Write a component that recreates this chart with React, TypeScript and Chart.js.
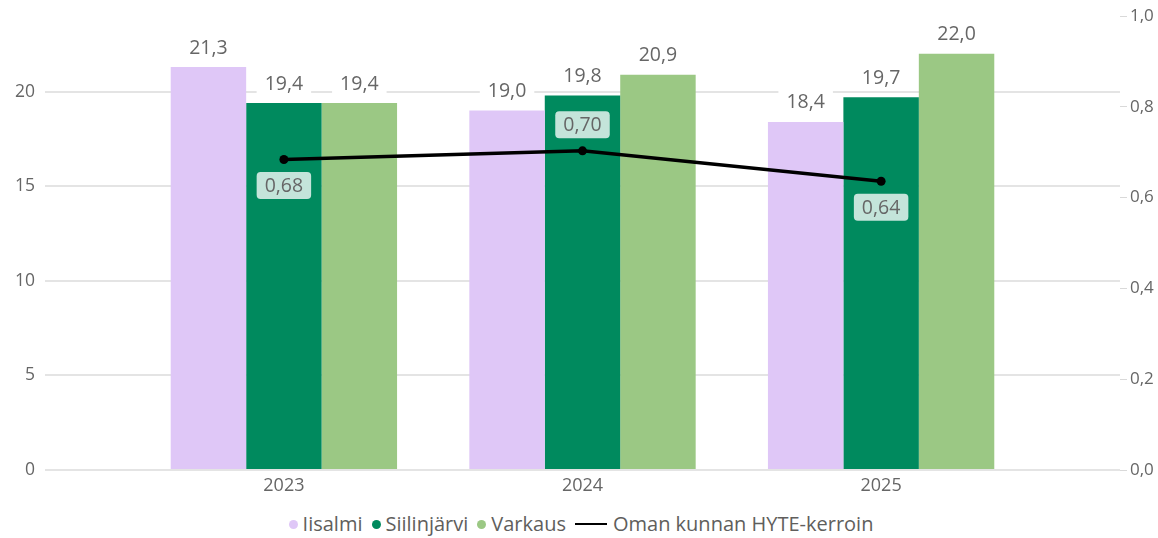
import React, { useEffect, useRef } from 'react';
import { Chart, registerables } from 'chart.js';

Chart.register(...registerables);

// ---- data ----
const years = ['2023', '2024', '2025'];
const iisalmi = [21.3, 19.0, 18.4];
const siilinjarvi = [19.4, 19.8, 19.7];
const varkaus = [19.4, 20.9, 22.0];
const hyteKerroin = [0.684, 0.703, 0.636];
const leftTicks = [0, 5, 10, 15, 20];
const rightTicks = [0, 0.2, 0.4, 0.6, 0.8, 1.0];
// placement of the HYTE labels: 1 = below the point, -1 = above
const hyteLabelSide = [1, -1, 1];

const seriesNames = ['Iisalmi', 'Siilinjärvi', 'Varkaus'];
const seriesColors = ['#dfc7f7', '#008a5e', '#9bc884'];
const lineName = 'Oman kunnan HYTE-kerroin';

const FONT = '"Segoe UI", "Open Sans", sans-serif';
const TEXT = '#666666';
const LEGEND_TEXT = '#605e5c';
const LABEL_FONT = 19.5;

const fmt = (v: number, d: number) => v.toFixed(d).replace('.', ',');
const toPoints = (arr: number[]) => arr.map((y, i) => ({ x: i, y }));

const roundRect = (ctx: CanvasRenderingContext2D, x: number, y: number, w: number, h: number, r: number) => {
  ctx.beginPath();
  ctx.moveTo(x + r, y);
  ctx.lineTo(x + w - r, y);
  ctx.quadraticCurveTo(x + w, y, x + w, y + r);
  ctx.lineTo(x + w, y + h - r);
  ctx.quadraticCurveTo(x + w, y + h, x + w - r, y + h);
  ctx.lineTo(x + r, y + h);
  ctx.quadraticCurveTo(x, y + h, x, y + h - r);
  ctx.lineTo(x, y + r);
  ctx.quadraticCurveTo(x, y, x + r, y);
  ctx.closePath();
};

const valueLabels = {
  id: 'valueLabels',
  afterDatasetsDraw(chart: any) {
    const ctx: CanvasRenderingContext2D = chart.ctx;
    ctx.save();
    ctx.font = `${LABEL_FONT}px ${FONT}`;
    ctx.textAlign = 'center';
    ctx.textBaseline = 'middle';
    chart.data.datasets.forEach((ds: any, di: number) => {
      const meta = chart.getDatasetMeta(di);
      if (!meta.visible) return;
      meta.data.forEach((el: any, i: number) => {
        const v = ds.data[i].y;
        if (ds.type === 'line') {
          const txt = fmt(v, 2);
          const w = ctx.measureText(txt).width + 16;
          const h = 27;
          const cy = el.y + hyteLabelSide[i] * 26;
          ctx.fillStyle = 'rgba(255,255,255,0.77)';
          roundRect(ctx, el.x - w / 2, cy - h / 2, w, h, 4);
          ctx.fill();
          ctx.fillStyle = TEXT;
          ctx.fillText(txt, el.x, cy + 1);
        } else {
          const txt = fmt(v, 1);
          const w = ctx.measureText(txt).width + 16;
          const cy = el.y - 20;
          ctx.fillStyle = '#ffffff';
          ctx.fillRect(el.x - w / 2, cy - 11, w, 22);
          ctx.fillStyle = TEXT;
          ctx.fillText(txt, el.x, cy + 1);
        }
      });
    });
    ctx.restore();
  },
};

export default function App() {
  const ref = useRef<HTMLCanvasElement | null>(null);

  useEffect(() => {
    document.body.style.margin = '0';
    if (!ref.current) return;
    Chart.defaults.font.family = FONT;
    const chart = new Chart(ref.current, {
      data: {
        datasets: [
          ...seriesNames.map((name, k) => ({
            type: 'bar',
            label: name,
            data: toPoints([iisalmi, siilinjarvi, varkaus][k]),
            backgroundColor: seriesColors[k],
            yAxisID: 'y',
            order: 1,
          })),
          {
            type: 'line',
            label: lineName,
            data: toPoints(hyteKerroin),
            borderColor: '#000000',
            backgroundColor: '#000000',
            borderWidth: 3.5,
            pointRadius: 4.5,
            pointBackgroundColor: '#000000',
            pointBorderWidth: 0,
            tension: 0,
            yAxisID: 'y1',
            order: -1,
          },
        ] as any,
      },
      options: {
        animation: false,
        responsive: true,
        maintainAspectRatio: false,
        layout: { padding: { top: 16, bottom: 0, left: 0, right: 0 } },
        datasets: {
          bar: { categoryPercentage: 0.758, barPercentage: 1 },
        },
        scales: {
          x: {
            type: 'linear',
            offset: false,
            min: -0.8,
            max: 2.8,
            afterBuildTicks: (s: any) => {
              s.ticks = years.map((_, i) => ({ value: i }));
            },
            afterFit: (s: any) => {
              s.height = 35;
              s.paddingLeft = 0;
              s.paddingRight = 0;
            },
            ticks: {
              callback: (v: any) => years[v] ?? '',
              color: TEXT,
              font: { size: 18 },
              padding: 5,
              autoSkip: false,
              maxRotation: 0,
            },
            grid: { display: false, drawTicks: false, offset: false },
            border: { display: false },
          },
          y: {
            position: 'left',
            min: 0,
            max: 24,
            afterBuildTicks: (s: any) => {
              s.ticks = leftTicks.map((value) => ({ value }));
            },
            ticks: { color: TEXT, font: { size: 17.5 }, padding: 10 },
            grid: { color: '#e4e4e4', lineWidth: 2, drawTicks: false },
            border: { display: false },
            afterFit: (s: any) => {
              s.width = 45;
              s.paddingTop = 0;
              s.paddingBottom = 0;
            },
          },
          y1: {
            position: 'right',
            min: 0,
            max: 1,
            afterBuildTicks: (s: any) => {
              s.ticks = rightTicks.map((value) => ({ value }));
            },
            ticks: {
              color: TEXT,
              font: { size: 17 },
              padding: 3,
              callback: (v: any) => fmt(Number(v), 1),
            },
            grid: { drawOnChartArea: false, drawTicks: true, tickLength: 7, color: '#d9d9d9', lineWidth: 1 },
            border: { display: false },
            afterFit: (s: any) => {
              s.width = 38;
              s.paddingTop = 0;
              s.paddingBottom = 0;
            },
          },
        },
        plugins: {
          legend: { display: false },
          tooltip: { enabled: false },
        },
      } as any,
      plugins: [valueLabels],
    });
    return () => chart.destroy();
  }, []);

  const itemText: React.CSSProperties = { color: LEGEND_TEXT, fontSize: '20px', whiteSpace: 'nowrap' };

  return (
    <div style={{ position: 'relative', width: '1158px', height: '538px', fontFamily: FONT }}>
      <div style={{ position: 'absolute', left: 0, top: 0, width: '1158px', height: '505px' }}>
        <canvas ref={ref} />
      </div>
      <div
        style={{
          position: 'absolute',
          left: 0,
          top: '510px',
          width: '1158px',
          height: '28px',
          lineHeight: '28px',
          display: 'flex',
          justifyContent: 'center',
          alignItems: 'center',
          paddingLeft: '4px',
          boxSizing: 'border-box',
        }}
      >
        {seriesNames.map((name, k) => (
          <div key={name} style={{ display: 'flex', alignItems: 'center', marginRight: '9px' }}>
            <span
              style={{
                display: 'inline-block',
                width: '9px',
                height: '9px',
                borderRadius: '50%',
                background: seriesColors[k],
                marginRight: '5px',
              }}
            />
            <span style={itemText}>{name}</span>
          </div>
        ))}
        <div style={{ display: 'flex', alignItems: 'center' }}>
          <span
            style={{
              display: 'inline-block',
              width: '32px',
              height: '2.5px',
              background: '#000000',
              marginRight: '6px',
            }}
          />
          <span style={itemText}>{lineName}</span>
        </div>
      </div>
    </div>
  );
}
